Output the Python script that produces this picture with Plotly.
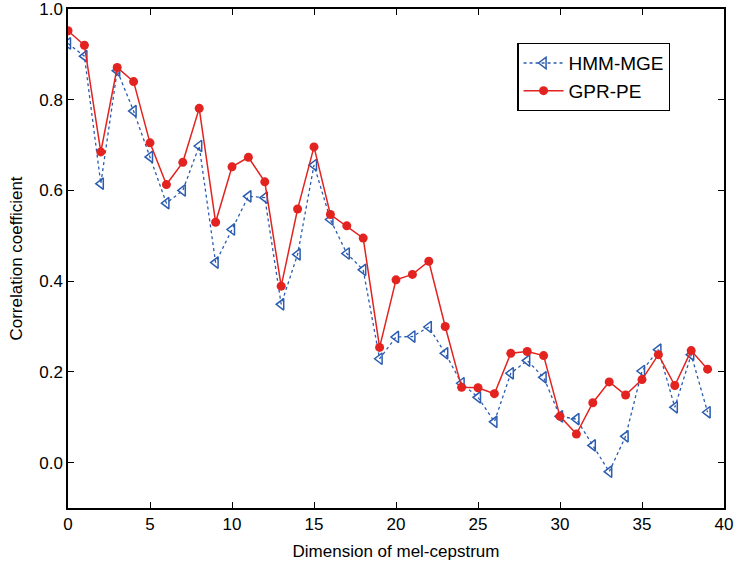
import plotly.graph_objects as go

dims = list(range(40))
hmm_mge = [0.924, 0.896, 0.615, 0.864, 0.775, 0.674, 0.572, 0.600, 0.698, 0.441,
           0.514, 0.587, 0.584, 0.349, 0.459, 0.656, 0.536, 0.461, 0.425, 0.229,
           0.277, 0.278, 0.299, 0.241, 0.175, 0.144, 0.090, 0.197, 0.225, 0.188,
           0.102, 0.096, 0.038, -0.020, 0.058, 0.202, 0.249, 0.122, 0.238, 0.111]
gpr_pe = [0.952, 0.920, 0.685, 0.871, 0.840, 0.705, 0.613, 0.662, 0.781, 0.530,
          0.652, 0.673, 0.619, 0.389, 0.559, 0.696, 0.547, 0.522, 0.495, 0.254,
          0.403, 0.415, 0.444, 0.300, 0.166, 0.165, 0.152, 0.241, 0.245, 0.236,
          0.102, 0.063, 0.132, 0.178, 0.149, 0.183, 0.238, 0.170, 0.247, 0.206]

fig = go.Figure()
fig.add_trace(go.Scatter(
    x=dims, y=hmm_mge, name="HMM-MGE", mode="lines+markers",
    line=dict(color="#2a5cb0", width=1.3, dash="dot"),
    marker=dict(symbol="triangle-left-open", size=10, color="#2a5cb0",
                line=dict(width=1.5, color="#2a5cb0")),
))
fig.add_trace(go.Scatter(
    x=dims, y=gpr_pe, name="GPR-PE", mode="lines+markers",
    line=dict(color="#e2231f", width=1.5),
    marker=dict(symbol="circle", size=9, color="#e2231f"),
))

axis_common = dict(
    showline=True, linecolor="black", linewidth=1.5, mirror="ticks",
    ticks="inside", ticklen=6, tickwidth=1, tickcolor="black",
    showgrid=False, zeroline=False, ticklabeloverflow="allow",
    automargin=False,
    tickfont=dict(family="Liberation Sans, Arial, sans-serif", size=17, color="black"),
)

fig.update_layout(
    width=734, height=567,
    margin=dict(l=68, r=10, t=9, b=59),
    paper_bgcolor="white", plot_bgcolor="white",
    font=dict(family="Liberation Sans, Arial, sans-serif", size=16, color="black"),
    xaxis=dict(range=[0, 40], tickvals=[0, 5, 10, 15, 20, 25, 30, 35, 40],
               title=dict(text="Dimension of mel-cepstrum", standoff=12,
                          font=dict(size=17)), **axis_common),
    yaxis=dict(range=[-0.1, 1.0], tickvals=[0.0, 0.2, 0.4, 0.6, 0.8, 1.0],
               tickformat=".1f",
               title=dict(text="Correlation coefficient", standoff=12,
                          font=dict(size=17)), **axis_common),
    legend=dict(x=0.685, y=0.932, xanchor="left", yanchor="top",
                bordercolor="black", borderwidth=1.2, bgcolor="white",
                font=dict(size=19), itemwidth=40,
                tracegroupgap=0),
    showlegend=True,
)

fig.write_html("out.html")
